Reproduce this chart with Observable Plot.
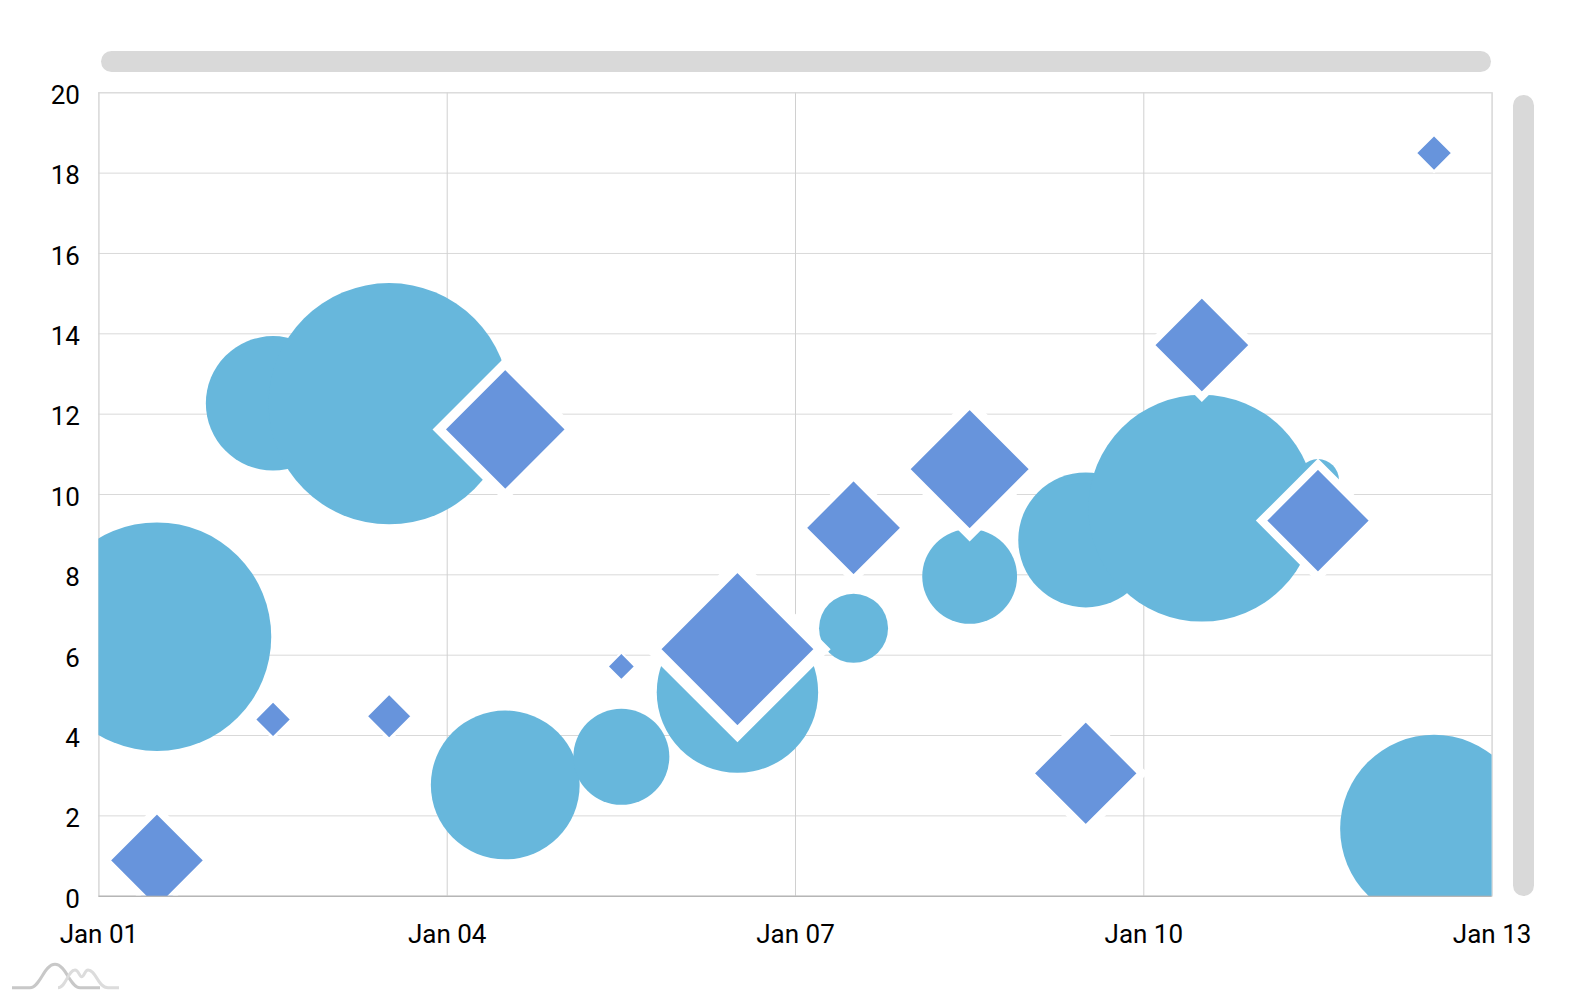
<!DOCTYPE html>
<html>
<head>
<meta charset="utf-8">
<script src="https://cdn.jsdelivr.net/npm/d3@7"></script>
<script src="https://cdn.jsdelivr.net/npm/@observablehq/plot@0.6"></script>
<style>
  html, body { margin: 0; padding: 0; background: #fff; }
  #wrap { position: relative; width: 1586px; height: 1000px; font-family: Roboto, sans-serif; }
  .scroll { position: absolute; background: #d9d9d9; }
  #hscroll { left: 101px; top: 51px; width: 1390px; height: 21px; border-radius: 10.5px; }
  #vscroll { left: 1513px; top: 95px; width: 21px; height: 801px; border-radius: 10.5px; }
  #logo { position: absolute; left: 0; top: 950px; }
</style>
</head>
<body>
<div id="wrap">
  <div id="chart"></div>
  <div class="scroll" id="hscroll"></div>
  <div class="scroll" id="vscroll"></div>
  <svg id="logo" width="130" height="45" viewBox="0 950 130 45">
    <path d="M12,987.7 L30,987.7 C40,987.7 44,964.3 55,964.3 C66,964.3 70,987.7 80,987.7 L100,987.7" fill="none" stroke="#c8c8c8" stroke-width="3"/>
    <path d="M58,987.7 C66,987.7 68,970 75,970 C79,970 79,976.7 81.7,976.7 C84,976.7 85,970 88,970 C96,970 98,987.7 108,987.7 L119,987.7" fill="none" stroke="#dcdcdc" stroke-width="3"/>
  </svg>
</div>
<script>
// Categories (one per day; each point sits in the middle of its day)
const days = ["2021-01-01","2021-01-02","2021-01-03","2021-01-04","2021-01-05","2021-01-06",
              "2021-01-07","2021-01-08","2021-01-09","2021-01-10","2021-01-11","2021-01-12"];
// Series 1 (circles): y values and bubble sizes
const circleValues = [6.46, 12.27, 12.26, 2.77, 3.47, 5.08, 6.67, 7.96, 8.87, 9.66, 10.36, 1.68];
const circleSizes  = [19.05, 11.2, 20.1, 12.4, 8.0, 13.45, 5.75, 7.9, 11.25, 18.9, 3.5, 15.65];
// Series 2 (diamonds): y values and bubble sizes
const diamondValues = [0.89, 4.40, 4.48, 11.62, 5.72, 6.15, 9.17, 10.63, 3.06, 13.72, 9.35, 18.50];
const diamondSizes  = [8.5, 3.1, 3.9, 11.0, 2.3, 14.1, 8.6, 10.95, 9.4, 8.6, 9.4, 3.1];
// Tick labels
const yTicks = [0, 2, 4, 6, 8, 10, 12, 14, 16, 18, 20];
const xTickDays = ["2021-01-01","2021-01-04","2021-01-07","2021-01-10","2021-01-13"];

const HALF_DAY = 12 * 3600 * 1000;
const toDate = s => new Date(s + "T00:00:00Z");
const circles = days.map((d, i) => ({date: new Date(+toDate(d) + HALF_DAY), value: circleValues[i], size: circleSizes[i]}));
const diamonds = days.map((d, i) => ({date: new Date(+toDate(d) + HALF_DAY), value: diamondValues[i], size: diamondSizes[i]}));
const xTicks = xTickDays.map(toDate);

// square rotated 45°, half-diagonal equal to the dot radius
const diamondSymbol = {
  draw(ctx, size) {
    const h = Math.sqrt(size / Math.PI);
    ctx.moveTo(0, -h); ctx.lineTo(h, 0); ctx.lineTo(0, h); ctx.lineTo(-h, 0); ctx.closePath();
  }
};

const chart = Plot.plot({
  width: 1586,
  height: 1000,
  marginLeft: 98.4,
  marginRight: 94.4,
  marginTop: 92.3,
  marginBottom: 104.3,
  style: {fontFamily: "Roboto, sans-serif", fontSize: "26px", color: "#000", background: "transparent"},
  x: {type: "utc", domain: [toDate("2021-01-01"), toDate("2021-01-13")], label: null},
  y: {domain: [0, 20], label: null},
  r: {type: "linear", domain: [0, 20], range: [0, 120]},
  marks: [
    Plot.gridY(yTicks, {stroke: "#d9d9d9", strokeOpacity: 1}),
    Plot.gridX(xTicks, {stroke: "#d0d0d0", strokeOpacity: 1}),
    Plot.frame({stroke: "#d9d9d9"}),
    Plot.dot(circles, {x: "date", y: "value", r: "size", fill: "#67b7dc", stroke: null, clip: true, sort: null}),
    Plot.dot(diamonds, {x: "date", y: "value", r: "size", symbol: diamondSymbol, fill: "#6794dc",
      stroke: "#fff", strokeWidth: d => d.size * 0.864, clip: true, sort: null}),
    Plot.ruleY([0], {stroke: "#000", strokeOpacity: 0.25}),
    Plot.axisY(yTicks, {label: null, tickSize: 0, tickPadding: 19, fontSize: 26, dy: 3, tickFormat: d => String(d)}),
    Plot.axisX(xTicks, {label: null, tickSize: 0, tickPadding: 28, fontSize: 26, tickFormat: d3.utcFormat("%b %d")})
  ]
});
document.getElementById("chart").appendChild(chart);
</script>
</body>
</html>
